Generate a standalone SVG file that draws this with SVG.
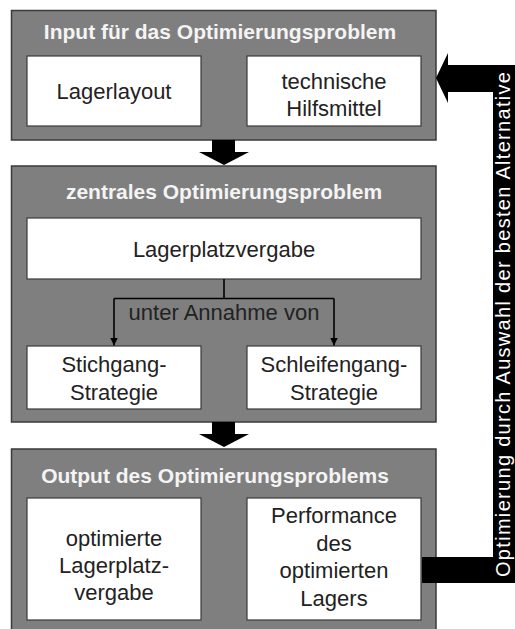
<svg xmlns="http://www.w3.org/2000/svg" width="515" height="629" viewBox="0 0 515 629">
  <style>
    .panel { fill: #7f7f7f; stroke: #3a3a3a; stroke-width: 1.5; }
    .box { fill: #ffffff; stroke: #3a3a3a; stroke-width: 1.2; }
    .title { font-family: "Liberation Sans", Arial, sans-serif; font-size: 21px; font-weight: bold; fill: #f4f4f4; text-anchor: middle; }
    .label { font-family: "Liberation Sans", Arial, sans-serif; font-size: 22px; fill: #222222; text-anchor: middle; }
    .side { font-family: "Liberation Sans", Arial, sans-serif; font-size: 20px; fill: #ffffff; }
    .thin { fill: none; stroke: #000000; stroke-width: 1.6; }
  </style>
  <defs>
    <marker id="tip" viewBox="0 0 10 10" refX="10" refY="5" markerWidth="8" markerHeight="8" markerUnits="userSpaceOnUse" orient="auto">
      <path d="M0,0 L10,5 L0,10 Z" fill="#000000"/>
    </marker>
  </defs>

  <g id="input">
    <rect class="panel" x="11.5" y="10.5" width="424.5" height="129.5"/>
    <text class="title" x="220" y="39">Input für das Optimierungsproblem</text>
    <g id="lagerlayout">
      <rect class="box" x="27" y="56" width="174" height="70"/>
      <text class="label" x="114" y="99">Lagerlayout</text>
    </g>
    <g id="hilfsmittel">
      <rect class="box" x="247" y="56" width="174" height="70"/>
      <text class="label" x="334" y="89">technische</text>
      <text class="label" x="334" y="116">Hilfsmittel</text>
    </g>
  </g>

  <g id="zentral">
    <rect class="panel" x="11.5" y="166" width="424.5" height="256"/>
    <text class="title" x="224" y="199">zentrales Optimierungsproblem</text>
    <g id="lagerplatzvergabe">
      <rect class="box" x="27" y="218" width="394" height="61"/>
      <text class="label" x="224" y="257">Lagerplatzvergabe</text>
    </g>
    <g id="stichgang">
      <rect class="box" x="27" y="346" width="174" height="63"/>
      <text class="label" x="114" y="372">Stichgang-</text>
      <text class="label" x="114" y="400">Strategie</text>
    </g>
    <g id="schleifengang">
      <rect class="box" x="247" y="346" width="174" height="63"/>
      <text class="label" x="334" y="372">Schleifengang-</text>
      <text class="label" x="334" y="400">Strategie</text>
    </g>
  </g>

  <g id="output">
    <rect class="panel" x="11.5" y="449" width="424.5" height="200"/>
    <text class="title" x="215" y="483">Output des Optimierungsproblems</text>
    <g id="optimierte-vergabe">
      <rect class="box" x="27" y="498" width="174" height="122"/>
      <text class="label" x="114" y="546">optimierte</text>
      <text class="label" x="114" y="573">Lagerplatz-</text>
      <text class="label" x="114" y="600">vergabe</text>
    </g>
    <g id="performance">
      <rect class="box" x="247" y="498" width="174" height="122"/>
      <text class="label" x="334" y="523">Performance</text>
      <text class="label" x="334" y="551">des</text>
      <text class="label" x="334" y="578">optimierten</text>
      <text class="label" x="334" y="606">Lagers</text>
    </g>
  </g>

  <g id="connectors">
    <!-- block arrows between the panels -->
    <polygon points="212,140 235,140 235,152 249,152 224,165 199,152 212,152" fill="#000000"/>
    <polygon points="212,422 235,422 235,434 249,434 224,447 199,434 212,434" fill="#000000"/>
    <!-- branch from Lagerplatzvergabe to both strategies -->
    <path class="thin" d="M224,279 V298.5"/>
    <path class="thin" d="M114,298.5 H334"/>
    <path class="thin" d="M114,298.5 V345.5" marker-end="url(#tip)"/>
    <path class="thin" d="M334,298.5 V345.5" marker-end="url(#tip)"/>
    <text class="label" x="224" y="320">unter Annahme von</text>
    <!-- feedback loop back to the input panel -->
    <polygon points="422,557 493,557 493,92 448,92 448,103 436,78 448,53 448,65 515,65 515,583 422,583" fill="#000000"/>
    <text class="side" transform="translate(510,577) rotate(-90)" textLength="505" lengthAdjust="spacing">Optimierung durch Auswahl der besten Alternative</text>
  </g>
</svg>
